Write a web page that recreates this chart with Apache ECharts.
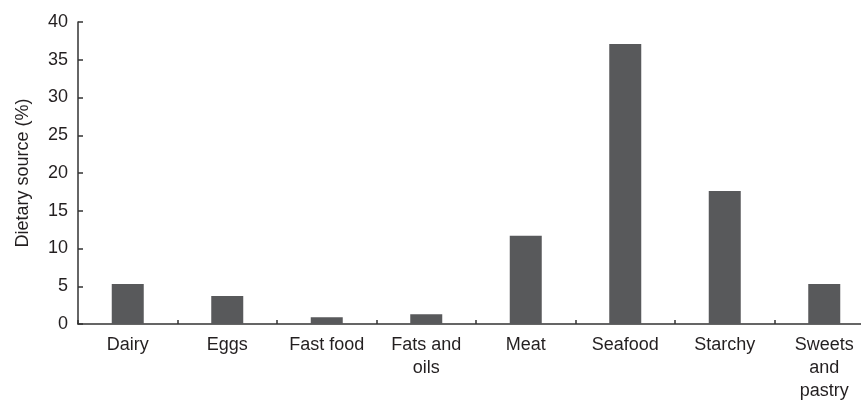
<!DOCTYPE html>
<html>
<head>
<meta charset="utf-8">
<script src="https://cdn.jsdelivr.net/npm/echarts@6/dist/echarts.min.js"></script>
<style>
html,body{margin:0;padding:0;background:#fff;}
#chart{width:861px;height:401px;}
</style>
</head>
<body>
<div id="chart"></div>
<script>
const categories = ['Dairy', 'Eggs', 'Fast food', 'Fats and\noils', 'Meat', 'Seafood', 'Starchy', 'Sweets\nand\npastry'];
const values = [5.3, 3.7, 0.9, 1.3, 11.7, 37.1, 17.6, 5.3];
const yTicks = { min: 0, max: 40, interval: 5 };
const yName = 'Dietary source (%)';

const chart = echarts.init(document.getElementById('chart'), null, { renderer: 'canvas' });
const font = 'Liberation Sans, Arial, sans-serif';
chart.setOption({
  animation: false,
  backgroundColor: '#fff',
  grid: { left: 78, right: -13, top: 22, bottom: 77, containLabel: false, outerBoundsMode: 'none' },
  xAxis: {
    type: 'category',
    data: categories,
    axisLine: { show: true, lineStyle: { color: '#333', width: 1.5 } },
    axisTick: { show: true, inside: true, length: 4, alignWithLabel: false, lineStyle: { color: '#333', width: 1.5 } },
    axisLabel: { color: '#231f20', fontFamily: font, fontSize: 18, margin: 10, lineHeight: 23, interval: 0 },
    splitLine: { show: false }
  },
  yAxis: {
    type: 'value',
    min: yTicks.min, max: yTicks.max, interval: yTicks.interval,
    name: yName,
    nameLocation: 'middle',
    nameGap: 46,
    nameRotate: 90,
    nameTextStyle: { color: '#231f20', fontFamily: font, fontSize: 18 },
    axisLine: { show: true, lineStyle: { color: '#333', width: 1.5 } },
    axisTick: { show: true, inside: true, length: 5, lineStyle: { color: '#333', width: 1.5 } },
    axisLabel: { color: '#231f20', fontFamily: font, fontSize: 18, margin: 10 },
    splitLine: { show: false }
  },
  series: [{
    type: 'bar',
    data: values,
    barWidth: 32,
    itemStyle: { color: '#58595b' }
  }]
});
</script>
</body>
</html>
